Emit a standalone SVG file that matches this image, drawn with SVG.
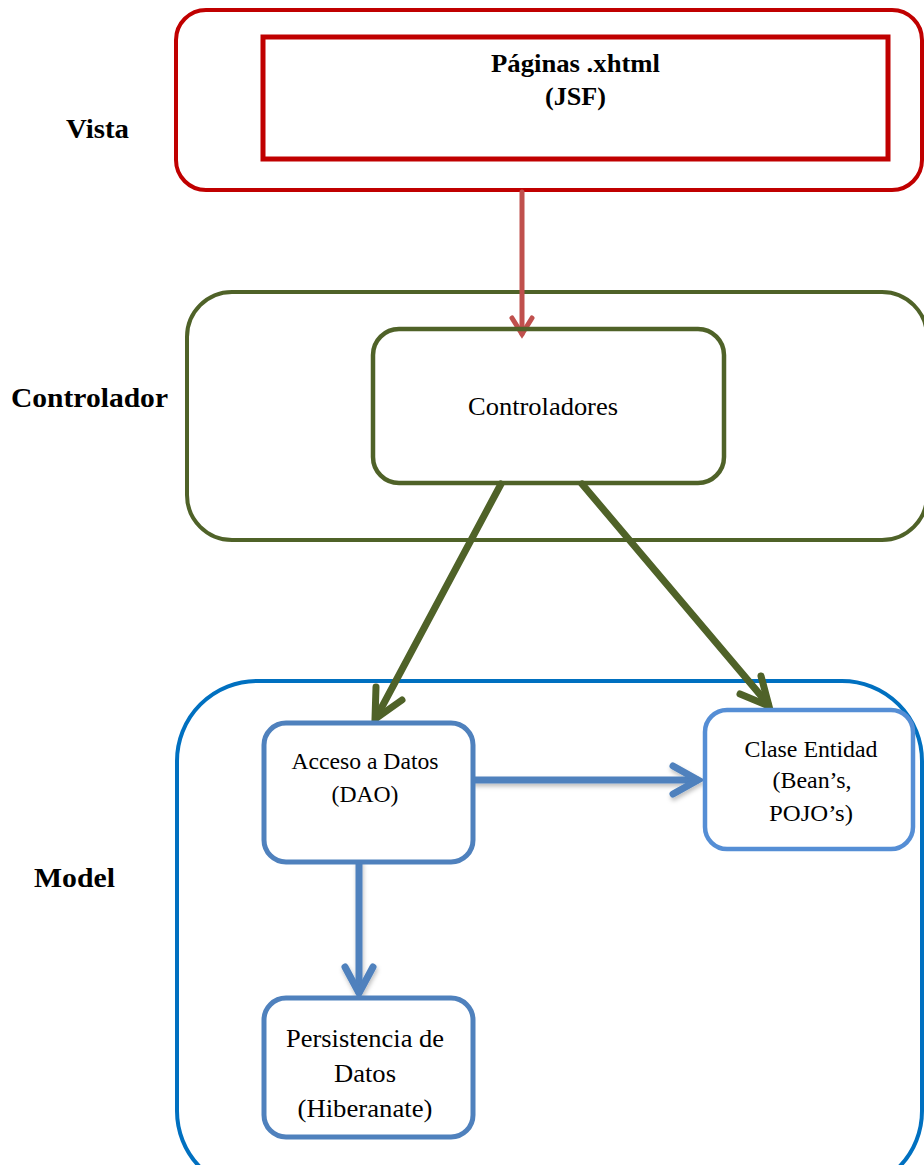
<svg xmlns="http://www.w3.org/2000/svg" width="924" height="1165" viewBox="0 0 924 1165">
  <style>
    .lbl { font-family: "Times New Roman", "Liberation Serif", Tinos, Times, serif; font-weight: bold; font-size: 28px; fill: #000; }
    .txt { font-family: "Times New Roman", "Liberation Serif", Tinos, Times, serif; font-size: 24px; fill: #000; text-anchor: middle; }
    .red { fill: none; stroke: #C00000; }
    .grn { fill: none; stroke: #4F6228; }
    .blu { fill: none; stroke: #0070C0; }
    .box { fill: #fff; stroke: #4F81BD; stroke-width: 5; }
    .box2 { fill: #fff; stroke: #558ED5; stroke-width: 4.5; }
    .ar { fill: none; stroke-linecap: round; stroke-linejoin: miter; }
  </style>
  <defs>
    <filter id="shadow" x="-10%" y="-30%" width="120%" height="160%">
      <feDropShadow dx="1" dy="3" stdDeviation="2" flood-color="#000" flood-opacity="0.25"/>
    </filter>
  </defs>

  <rect width="924" height="1165" fill="#fff"/>

  <!-- Layer containers -->
  <g id="vista">
    <rect class="red" x="176" y="10" width="746" height="180" rx="30" stroke-width="4"/>
    <text class="lbl" x="66" y="138" textLength="63" lengthAdjust="spacingAndGlyphs">Vista</text>
  </g>
  <g id="controlador">
    <rect class="grn" x="187" y="292" width="740" height="248" rx="45" stroke-width="4"/>
    <text class="lbl" x="11" y="407" textLength="157" lengthAdjust="spacingAndGlyphs">Controlador</text>
  </g>
  <g id="model">
    <rect class="blu" x="177" y="681" width="745" height="510" rx="80" stroke-width="4"/>
    <text class="lbl" x="34" y="887" textLength="81" lengthAdjust="spacingAndGlyphs">Model</text>
  </g>

  <!-- Connectors -->
  <g id="connectors">
    <g stroke="#C0504D" stroke-width="5" class="ar">
      <line x1="522" y1="192" x2="522" y2="334"/>
      <path d="M512 318 L522 334 L532 318"/>
    </g>
    <g stroke="#4F6228" stroke-width="7" class="ar">
      <line x1="501" y1="484" x2="376" y2="718"/>
      <path d="M376 687 L375 719 L402 700"/>
      <line x1="582" y1="484" x2="768" y2="704"/>
      <path d="M761 676 L769 706 L740 694"/>
    </g>
    <g stroke="#4F81BD" stroke-width="7" class="ar" filter="url(#shadow)">
      <line x1="475" y1="780" x2="697" y2="780"/>
      <path d="M673 766 L698 780 L673 794"/>
      <line x1="359" y1="862" x2="359" y2="992"/>
      <path d="M345 967 L359 993 L373 967"/>
    </g>
  </g>

  <!-- Nodes -->
  <g id="paginas">
    <rect class="red" x="263" y="37" width="625" height="122" stroke-width="5"/>
    <text class="lbl" style="font-size:26px" x="575.5" y="72" text-anchor="middle" textLength="169" lengthAdjust="spacingAndGlyphs">Páginas .xhtml</text>
    <text class="lbl" style="font-size:26px" x="575.5" y="105" text-anchor="middle" textLength="61" lengthAdjust="spacingAndGlyphs">(JSF)</text>
  </g>
  <g id="controladores">
    <rect class="grn" x="373" y="329" width="351" height="154" rx="26" stroke-width="4.5" fill="#fff"/>
    <text class="txt" style="font-size:26px" x="543" y="415" textLength="150" lengthAdjust="spacingAndGlyphs">Controladores</text>
  </g>
  <g id="acceso">
    <rect class="box" x="264" y="723" width="209" height="139" rx="22"/>
    <text class="txt" x="365" y="769" textLength="147" lengthAdjust="spacingAndGlyphs">Acceso a Datos</text>
    <text class="txt" x="365" y="802" textLength="67" lengthAdjust="spacingAndGlyphs">(DAO)</text>
  </g>
  <g id="entidad">
    <rect class="box2" x="705" y="710" width="208" height="139" rx="22"/>
    <text class="txt" x="811" y="757" textLength="133" lengthAdjust="spacingAndGlyphs">Clase Entidad</text>
    <text class="txt" x="812" y="788" textLength="79" lengthAdjust="spacingAndGlyphs">(Bean’s,</text>
    <text class="txt" x="811" y="821" textLength="84" lengthAdjust="spacingAndGlyphs">POJO’s)</text>
  </g>
  <g id="persistencia">
    <rect class="box" x="264" y="998" width="209" height="139" rx="22"/>
    <text class="txt" style="font-size:26px" x="365" y="1047" textLength="158" lengthAdjust="spacingAndGlyphs">Persistencia de</text>
    <text class="txt" style="font-size:26px" x="365" y="1082" textLength="62" lengthAdjust="spacingAndGlyphs">Datos</text>
    <text class="txt" style="font-size:26px" x="365" y="1117" textLength="135" lengthAdjust="spacingAndGlyphs">(Hiberanate)</text>
  </g>
</svg>
